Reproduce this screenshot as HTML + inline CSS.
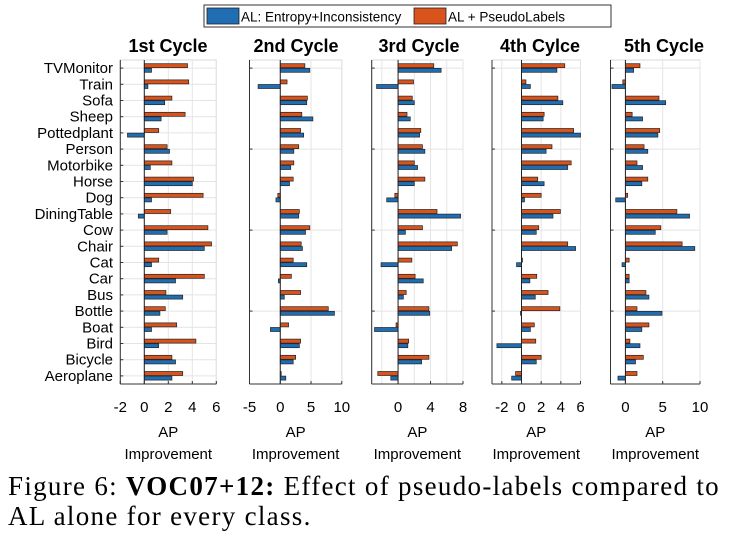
<!DOCTYPE html>
<html><head><meta charset="utf-8"><style>
body{margin:0;background:#fff;width:729px;height:540px;overflow:hidden}
svg{display:block}
.cap{position:absolute;left:8px;top:471px;font-family:"Liberation Serif",serif;font-size:27px;letter-spacing:1.3px;line-height:30px;color:#000;width:730px;white-space:nowrap}
</style></head><body>
<svg id="chart" width="729" height="540" style="position:absolute;left:0;top:0"></svg>
<div class="cap">Figure 6: <b>VOC07+12:</b> Effect of pseudo-labels compared to<br>AL alone for every class.</div>
<script>
const categories=["TVMonitor","Train","Sofa","Sheep","Pottedplant","Person","Motorbike","Horse","Dog","DiningTable","Cow","Chair","Cat","Car","Bus","Bottle","Boat","Bird","Bicycle","Aeroplane"];
const cycleTitles=["1st Cycle","2nd Cycle","3rd Cycle","4th Cylce","5th Cycle"];
const alC1=[0.6,0.3,1.7,1.4,-1.4,2.1,0.5,4.0,0.6,-0.5,1.9,5.0,0.6,2.6,3.2,1.3,0.6,1.2,2.6,2.3];
const plC1=[3.6,3.7,2.3,3.4,1.2,1.9,2.3,4.1,4.9,2.2,5.3,5.6,1.2,5.0,1.8,1.75,2.7,4.3,2.3,3.2];
const alC2=[4.8,-3.6,4.3,5.3,3.8,2.2,1.7,1.5,-0.7,3.0,4.1,3.6,4.3,-0.3,0.65,8.8,-1.6,3.1,2.1,0.9];
const plC2=[4.0,1.1,4.4,3.5,3.3,3.0,2.2,2.1,-0.4,3.1,4.8,3.4,2.1,1.8,3.3,7.8,1.35,3.3,2.5,0.15];
const alC3=[5.3,-2.65,2.0,1.5,2.65,3.3,2.4,2.0,-1.4,7.7,0.9,6.6,-2.1,3.1,0.65,3.9,-2.9,1.2,2.9,-0.9];
const plC3=[4.4,1.9,1.75,1.1,2.8,3.0,2.0,3.3,-0.4,4.8,3.0,7.3,1.7,2.1,1.0,3.8,-0.25,1.3,3.8,-2.5];
const alC4=[3.6,0.9,4.2,2.2,6.0,2.5,4.7,2.3,0.3,3.2,1.5,5.5,-0.5,0.85,1.4,-0.1,0.9,-2.5,1.5,-1.0];
const plC4=[4.4,0.45,3.7,2.3,5.3,3.1,5.05,1.65,2.0,3.95,1.75,4.7,0.1,1.55,2.7,3.9,1.3,1.45,2.0,-0.6];
const alC5=[1.1,-1.8,5.4,2.3,4.35,3.0,2.3,2.2,-1.3,8.6,4.0,9.3,-0.45,0.5,3.15,4.9,2.2,1.95,1.35,-1.0];
const plC5=[1.95,-0.35,4.5,0.9,4.6,2.5,1.55,3.0,0.3,6.9,4.75,7.6,0.5,0.5,2.75,1.55,3.15,0.6,2.4,1.55];
const ticks1=[-2,0,2,4,6],ticks2=[-5,0,5,10],ticks3=[0,4,8],ticks4=[-2,0,2,4,6],ticks5=[0,5,10];
const grid3=[-2,0,2,4,6,8];
const panels=[
 {x0:120.3,x1:216.3,d0:-2,d1:6,al:alC1,pl:plC1,ticks:ticks1,grid:ticks1,gridEvery:1,tc:168},
 {x0:249.5,x1:341.8,d0:-5,d1:10,al:alC2,pl:plC2,ticks:ticks2,grid:ticks2,gridEvery:5,tc:296},
 {x0:371.7,x1:463,d0:-3.25,d1:8,al:alC3,pl:plC3,ticks:ticks3,grid:grid3,gridEvery:5,tc:419},
 {x0:492,x1:580.5,d0:-3,d1:6,al:alC4,pl:plC4,ticks:ticks4,grid:ticks4,gridEvery:5,tc:540},
 {x0:610.5,x1:700,d0:-2,d1:10,al:alC5,pl:plC5,ticks:ticks5,grid:ticks5,gridEvery:5,tc:664}
];
const NS="http://www.w3.org/2000/svg";
const svg=document.getElementById('chart');
const top0=60,bot0=384;
const rowH=(bot0-top0)/categories.length;
function yC(i){return top0+rowH*(i+0.5);}
function mk(tag,attrs,parent){const e=document.createElementNS(NS,tag);for(const k in attrs)e.setAttribute(k,attrs[k]);(parent||svg).appendChild(e);return e;}
const FONT='"Liberation Sans",Arial,sans-serif';
const lg=mk('g',{});


mk('rect',{x:204,y:5,width:407,height:22,fill:'#fff',stroke:'#333','stroke-width':1},lg);
const l1=mk('rect',{x:207,y:8,width:32,height:16,fill:'#1f6db3',stroke:'#222','stroke-width':0.8},lg);


const lt1=mk('text',{x:241,y:21.5,'font-family':FONT,'font-size':13.5,fill:'#000'},lg);lt1.textContent='AL: Entropy+Inconsistency';


const l2=mk('rect',{x:414,y:8,width:32,height:16,fill:'#d9531c',stroke:'#222','stroke-width':0.8},lg);


const lt2=mk('text',{x:448,y:21.5,'font-family':FONT,'font-size':13.5,fill:'#000'},lg);lt2.textContent='AL + PseudoLabels';


categories.forEach((c,i)=>{
 const t=mk('text',{x:113,y:yC(i)+5,'text-anchor':'end','font-family':FONT,'font-size':15,fill:'#000'});
 t.textContent=c;
 
 
});
panels.forEach((p,pi)=>{
 const sx=v=>p.x0+(v-p.d0)/(p.d1-p.d0)*(p.x1-p.x0);
 const g=mk('g',{});
 
 
 mk('rect',{x:p.x0,y:top0,width:p.x1-p.x0,height:bot0-top0,fill:'#fff',stroke:'#d8d8d8','stroke-width':1},g);
 p.grid.forEach(v=>mk('line',{x1:sx(v),x2:sx(v),y1:top0,y2:bot0,stroke:'#e4e4e4','stroke-width':1},g));
 categories.forEach((c,i)=>{if(i%p.gridEvery===0)mk('line',{x1:p.x0,x2:p.x1,y1:yC(i),y2:yC(i),stroke:'#e4e4e4','stroke-width':1},g);});
 categories.forEach((c,i)=>{
  const y=yC(i);
  const a=sx(Math.min(0,p.pl[i])),b=sx(Math.max(0,p.pl[i]));
  const r1=mk('rect',{x:a,y:y-4.4,width:Math.max(0.5,b-a),height:4,fill:'#d9531c',stroke:'#222','stroke-width':0.7},g);
  
  
  const a2=sx(Math.min(0,p.al[i])),b2=sx(Math.max(0,p.al[i]));
  const r2=mk('rect',{x:a2,y:y+0.2,width:Math.max(0.5,b2-a2),height:4,fill:'#1f6db3',stroke:'#222','stroke-width':0.7},g);
  
  
 });
 mk('line',{x1:sx(0),x2:sx(0),y1:top0,y2:bot0,stroke:'#222','stroke-width':1},g);
 mk('line',{x1:p.x0,x2:p.x0,y1:top0,y2:bot0,stroke:'#333','stroke-width':1},g);
 mk('line',{x1:p.x0,x2:p.x1,y1:bot0,y2:bot0,stroke:'#333','stroke-width':1},g);
 categories.forEach((c,i)=>{if(pi===0||i%5===0)mk('line',{x1:p.x0,x2:p.x0+3,y1:yC(i),y2:yC(i),stroke:'#333'},g);});
 p.ticks.forEach(v=>{
  mk('line',{x1:sx(v),x2:sx(v),y1:bot0,y2:bot0-3,stroke:'#333'},g);
  const t=mk('text',{x:sx(v),y:412,'text-anchor':'middle','font-family':FONT,'font-size':15,fill:'#000'},g);
  t.textContent=String(v);
  
  
 });
 const tt=mk('text',{x:p.tc,y:52,'text-anchor':'middle','font-family':FONT,'font-size':18,'font-weight':'bold',fill:'#000'},g);
 tt.textContent=cycleTitles[pi];
 
 
 const x1=mk('text',{x:(p.x0+p.x1)/2,y:437,'text-anchor':'middle','font-family':FONT,'font-size':15,fill:'#000'},g);
 x1.textContent='AP';
 
 
 const x2=mk('text',{x:(p.x0+p.x1)/2,y:459,'text-anchor':'middle','font-family':FONT,'font-size':15,fill:'#000'},g);
 x2.textContent='Improvement';
 
 
});
</script>
</body></html>
